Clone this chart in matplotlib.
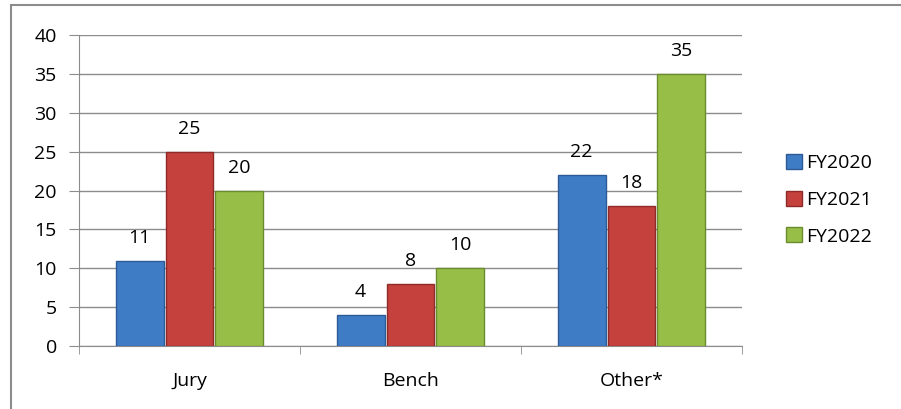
import matplotlib.pyplot as plt
import numpy as np
from matplotlib.patches import Rectangle

categories = ['Jury', 'Bench', 'Other*']
series = ['FY2020', 'FY2021', 'FY2022']
fy2020 = [11, 4, 22]
fy2021 = [25, 8, 18]
fy2022 = [20, 10, 35]
colors = ['#3f7cc6', '#c4413d', '#97bf48']
edges = ['#2c5a94', '#8e2a27', '#6a8c2e']

plt.rcParams['font.family'] = ['Open Sans', 'DejaVu Sans']

fig = plt.figure(figsize=(9.01, 4.09), dpi=100)
ax = fig.add_axes([0.0877, 0.154, 0.7358, 0.760])

# outer border of the chart area (cropped at right and bottom)
fig.patches.append(Rectangle((11 / 901, -0.05), 1.0, (404 / 409) + 0.05,
                             transform=fig.transFigure, fill=False,
                             edgecolor='#8c8c8c', linewidth=1.5))

x = np.arange(len(categories))
width = 0.217
for i, (name, vals) in enumerate(zip(series, [fy2020, fy2021, fy2022])):
    pos = x + (i - 1) * (width + 0.009)
    bars = ax.bar(pos, vals, width, color=colors[i], edgecolor=edges[i],
                  linewidth=1, label=name, zorder=3)
    for b, v in zip(bars, vals):
        ax.annotate(str(v), (b.get_x() + b.get_width() / 2, v),
                    xytext=(0, 10), textcoords='offset points',
                    ha='center', va='bottom', fontsize=14)

ax.set_xlim(-0.5, 2.5)
ax.set_ylim(0, 40)
ax.set_yticks(range(0, 41, 5))
ax.set_xticks(x)
ax.set_xticklabels(categories)
ax.set_xticks([-0.5, 0.5, 1.5, 2.5], minor=True)
ax.tick_params(axis='x', which='major', length=0, pad=19, labelsize=14)
ax.tick_params(axis='x', which='minor', length=6, color='#8c8c8c')
ax.tick_params(axis='y', length=7, color='#8c8c8c', labelsize=14, pad=9)
ax.yaxis.grid(True, color='#8c8c8c', linewidth=1, zorder=0)

for s in ['top', 'right']:
    ax.spines[s].set_visible(False)
for s in ['left', 'bottom']:
    ax.spines[s].set_color('#8c8c8c')

ax.legend(loc='center left', bbox_to_anchor=(1.04, 0.47), frameon=False,
          fontsize=14, handlelength=0.8, handleheight=0.8,
          labelspacing=0.95, handletextpad=0.25)

fig.savefig('out.png', dpi=100)
